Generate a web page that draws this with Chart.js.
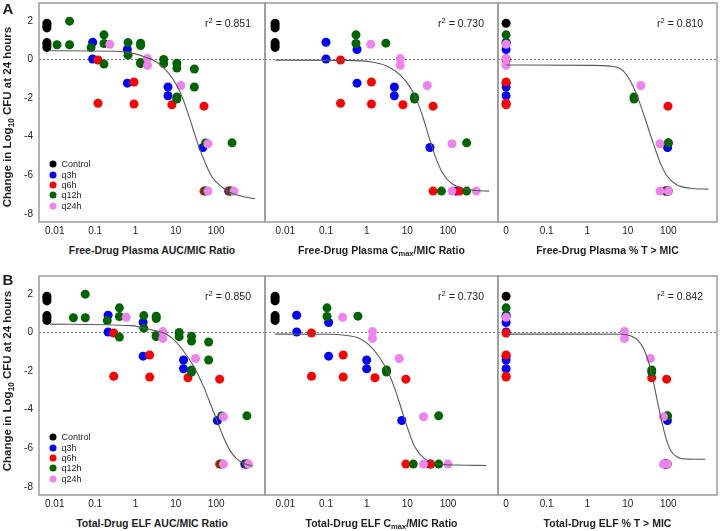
<!DOCTYPE html>
<html>
<head>
<meta charset="utf-8">
<script src="https://cdn.jsdelivr.net/npm/chart.js@4.4.1/dist/chart.umd.min.js"></script>
<style>
  html, body { margin:0; padding:0; background:#ffffff; }
  body { position:relative; width:720px; height:531px; overflow:hidden;
         font-family:"Liberation Sans", Arial, Helvetica, sans-serif; color:#1e1e1e; }
  canvas { position:absolute; }
  .txt { position:absolute; white-space:nowrap; line-height:1; }
  .ctr { transform:translate(-50%,-50%); }
  .xt { font-weight:bold; font-size:10.5px; }
  .yt { font-weight:bold; font-size:11.5px; transform:translate(-50%,-50%) rotate(-90deg); }
  .r2 { font-size:10.5px; transform:translate(-100%,-50%); }
  .pl { font-weight:bold; font-size:15px; }
  .lg { font-size:9px; transform:translateY(-50%); }
  .dot { position:absolute; width:7px; height:7px; border-radius:50%; transform:translate(-50%,-50%); }
  sub { font-size:72%; vertical-align:-0.28em; line-height:0; }
  sup { font-size:72%; vertical-align:0.45em; line-height:0; }
</style>
</head>
<body>
<script>
// ---------------- axis ticks ----------------
const Y_TICKS = [-8, -6, -4, -2, 0, 2];
const X_TICKS = [0.01, 0.1, 1, 10, 100];
const X_TICK_LABELS = ['0.01', '0.1', '1', '10', '100'];
const PCT_TICK_LABELS = ['0', '0.1', '1', '10', '100'];
const ZERO_PCT_POS = 0.01;   // "0" % T>MIC drawn at this log position

// ---------------- series ----------------
const SERIES_NAMES  = ['Control', 'q3h', 'q6h', 'q12h', 'q24h'];
const SERIES_COLORS = ['#000000', '#0000ff', '#ff0000', '#006400', '#ee82ee'];

// Control
const control_cfu        = [1.87, 1.75, 1.63, 0.87, 0.75, 0.62];
const control_plasmaAUC  = [0.0064, 0.0064, 0.0064, 0.0064, 0.0064, 0.0064];
const control_plasmaCmax = [0.0056, 0.0056, 0.0056, 0.0056, 0.0056, 0.0056];
const control_plasmaT    = [0, null, null, null, null, null];
const control_elfAUC     = [0.0064, 0.0064, 0.0064, 0.0064, 0.0064, 0.0064];
const control_elfCmax    = [0.0056, 0.0056, 0.0056, 0.0056, 0.0056, 0.0056];
const control_elfT       = [0, null, null, null, null, null];

// q3h
const q3h_cfu        = [0.89, 0.02, 0.51, -1.23, -1.43, -1.88, -4.56, -6.82];
const q3h_plasmaAUC  = [0.087, 0.087, 0.63, 0.63, 6.4, 6.4, 47, 204];
const q3h_plasmaCmax = [0.10, 0.10, 0.58, 0.58, 4.8, 4.8, 36, 160];
const q3h_plasmaT    = [0, 0, 0, 0, 0, 0, 96, 86];
const q3h_elfAUC     = [0.21, 0.21, 1.55, 1.55, 15.5, 15.5, 107, 510];
const q3h_elfCmax    = [0.019, 0.019, 0.116, 0.116, 1.0, 1.0, 7.3, 36];
const q3h_elfT       = [0, 0, 0, 0, 0, 0, 95, 88];

// q6h
const q6h_cfu        = [-0.03, -2.27, -1.17, -2.31, -2.35, -2.42, -6.82, -6.82];
const q6h_plasmaAUC  = [0.118, 0.118, 0.92, 0.92, 8.0, 50, 50, 216];
const q6h_plasmaCmax = [0.228, 0.228, 1.31, 1.31, 7.8, 43, 43, 192];
const q6h_plasmaT    = [0, 0, 0, 0, 0, 98, 90, 98];
const q6h_elfAUC     = [0.29, 0.29, 2.25, 2.25, 20, 122, 122, 560];
const q6h_elfCmax    = [0.044, 0.044, 0.265, 0.265, 1.6, 9.2, 9.2, 38];
const q6h_elfT       = [0, 0, 0, 0, 39, 91, 80, 92];

// q12h
const q12h_cfu        = [1.98, 0.76, 0.76, 0.61, 1.27, 0.82, -0.24, 0.87, 0.22, 0.84, 0.72, -0.16, -0.22,
                         0.0, -0.22, -0.2, -0.45, -1.95, -2.05, -0.5, -1.43, -4.33, -4.32, -6.82, -6.82];
const q12h_plasmaAUC  = [0.0233, 0.0114, 0.0233, 0.0795, 0.166, 0.166, 0.166, 0.655, 0.655, 1.34, 1.34, 1.34, 1.34,
                         5.0, 5.0, 10.6, 10.6, 10.6, 10.6, 28.8, 28.8, 54.7, 247, 55, 240];
const q12h_plasmaCmax = [null, null, null, null, 0.546, 0.546, null, null, null, 2.97, null, null, null,
                         null, null, null, null, 15, 15, null, null, null, 288, 69, 288];
const q12h_plasmaT    = [null, null, null, null, 0, 0, null, null, null, null, null, null, null,
                         null, null, null, null, 14.3, 14.3, null, null, 100, 100, 86, 100];
const q12h_elfAUC     = [0.057, 0.029, 0.057, 0.20, 0.40, 0.40, 0.40, 1.61, 1.61, 3.27, 3.27, 3.27, 3.27,
                         12.1, 12.1, 24.5, 24.5, 24.5, 24.5, 65, 65, 137, 577, 137, 577];
const q12h_elfCmax    = [null, null, null, null, 0.106, 0.106, null, null, null, 0.61, null, null, null,
                         null, null, null, null, 3.08, 3.08, null, null, null, 59, 14, 59];
const q12h_elfT       = [null, null, null, null, 0, 0, null, null, null, null, null, null, null,
                         null, null, null, null, 39, 39, null, null, 95, 95, 82, 95];

// q24h
const q24h_cfu        = [0.78, 0.04, -0.31, -1.35, -4.37, -6.82, -6.82];
const q24h_plasmaAUC  = [0.232, 1.99, 1.99, 13.3, 62.5, 62.5, 277];
const q24h_plasmaCmax = [1.26, 6.7, 6.7, 31, 125, 125, 500];
const q24h_plasmaT    = [0, 0, 0, 21, 62, 62, 100];
const q24h_elfAUC     = [0.59, 4.75, 4.75, 30.9, 151, 151, 630];
const q24h_elfCmax    = [0.256, 1.39, 1.39, 6.3, 25, 25, 100];
const q24h_elfT       = [0, 8.3, 8.3, 36, 75.5, 75.5, 95];

// ---------------- fitted curves ----------------
const curveA1_x = [0.0078, 0.34, 0.87, 1.85, 3.25, 5.71, 8.32, 12.1, 17.7, 25.8, 37.6, 54.7, 79.8, 140, 247, 525, 923];
const curveA1_y = [0.45, 0.42, 0.31, 0.10, -0.12, -0.55, -0.99, -1.59, -2.46, -3.50, -4.54, -5.40, -6.10, -6.62, -6.93, -7.13, -7.22];
const curveA2_x = [0.0057, 0.285, 1.26, 3.2, 6.73, 11.8, 17.1, 24.8, 36, 52.1, 75.7, 120, 231, 486, 1020];
const curveA2_y = [-0.04, -0.05, -0.12, -0.35, -0.81, -1.45, -2.11, -3.06, -4.19, -5.19, -5.92, -6.41, -6.68, -6.79, -6.82];
const curveA3_x = [0.01, 1.17, 3.66, 6.44, 9.4, 13.7, 20, 29.3, 42.7, 62.3, 91, 160, 342, 966];
const curveA3_y = [-0.29, -0.31, -0.35, -0.47, -0.81, -1.42, -2.29, -3.32, -4.36, -5.32, -6.01, -6.49, -6.67, -6.72];
const curveB1_x = [0.0076, 0.81, 1.70, 2.98, 5.23, 9.15, 16.0, 28.1, 49.2, 71.5, 104, 151, 219, 319, 508, 811];
const curveB1_y = [0.43, 0.35, 0.21, 0.09, -0.05, -0.40, -1.00, -1.78, -2.82, -3.68, -4.55, -5.42, -6.11, -6.54, -6.80, -6.92];
const curveB2_x = [0.0056, 0.106, 0.319, 0.667, 1.16, 2.01, 3.5, 5.06, 7.31, 10.6, 15.3, 26.5, 55.5, 167, 879];
const curveB2_y = [-0.09, -0.10, -0.16, -0.31, -0.66, -1.26, -2.13, -2.99, -4.03, -5.07, -5.94, -6.54, -6.80, -6.87, -6.89];
const curveB3_x = [0.01, 1.07, 6.92, 12.1, 17.6, 25.6, 37.2, 49.2, 65, 86, 114, 166, 290, 811];
const curveB3_y = [-0.09, -0.09, -0.10, -0.19, -0.40, -0.92, -1.96, -3.17, -4.38, -5.42, -6.11, -6.45, -6.56, -6.57];

// ---------------- texts ----------------
const R2_VALUES = ['0.851', '0.730', '0.810', '0.850', '0.730', '0.842'];
const X_TITLES = [
  'Free-Drug Plasma AUC/MIC Ratio',
  'Free-Drug Plasma C<sub>max</sub>/MIC Ratio',
  'Free-Drug Plasma % T &gt; MIC',
  'Total-Drug ELF AUC/MIC Ratio',
  'Total-Drug ELF C<sub>max</sub>/MIC Ratio',
  'Total-Drug ELF % T &gt; MIC'
];
const Y_TITLE = 'Change in Log<sub>10</sub> CFU at 24 hours';
const PANEL_LETTERS = ['A', 'B'];

// ---------------- assembly ----------------
const SERIES = [
  {cfu: control_cfu, plasmaAUC: control_plasmaAUC, plasmaCmax: control_plasmaCmax, plasmaT: control_plasmaT,
   elfAUC: control_elfAUC, elfCmax: control_elfCmax, elfT: control_elfT},
  {cfu: q3h_cfu, plasmaAUC: q3h_plasmaAUC, plasmaCmax: q3h_plasmaCmax, plasmaT: q3h_plasmaT,
   elfAUC: q3h_elfAUC, elfCmax: q3h_elfCmax, elfT: q3h_elfT},
  {cfu: q6h_cfu, plasmaAUC: q6h_plasmaAUC, plasmaCmax: q6h_plasmaCmax, plasmaT: q6h_plasmaT,
   elfAUC: q6h_elfAUC, elfCmax: q6h_elfCmax, elfT: q6h_elfT},
  {cfu: q12h_cfu, plasmaAUC: q12h_plasmaAUC, plasmaCmax: q12h_plasmaCmax, plasmaT: q12h_plasmaT,
   elfAUC: q12h_elfAUC, elfCmax: q12h_elfCmax, elfT: q12h_elfT},
  {cfu: q24h_cfu, plasmaAUC: q24h_plasmaAUC, plasmaCmax: q24h_plasmaCmax, plasmaT: q24h_plasmaT,
   elfAUC: q24h_elfAUC, elfCmax: q24h_elfCmax, elfT: q24h_elfT}
];

const PANELS = [
  {box:[39, 3, 265, 222],  key:'plasmaAUC',  pct:false, range:[-2.39, 3.21], cx:curveA1_x, cy:curveA1_y, showY:true},
  {box:[265, 3, 498, 222], key:'plasmaCmax', pct:false, range:[-2.50, 3.23], cx:curveA2_x, cy:curveA2_y, showY:false},
  {box:[498, 3, 717, 222], key:'plasmaT',    pct:true,  range:[-2.20, 3.20], cx:curveA3_x, cy:curveA3_y, showY:false},
  {box:[39, 276, 265, 495],  key:'elfAUC',   pct:false, range:[-2.39, 3.21], cx:curveB1_x, cy:curveB1_y, showY:true},
  {box:[265, 276, 498, 495], key:'elfCmax',  pct:false, range:[-2.50, 3.23], cx:curveB2_x, cy:curveB2_y, showY:false},
  {box:[498, 276, 717, 495], key:'elfT',     pct:true,  range:[-2.20, 3.20], cx:curveB3_x, cy:curveB3_y, showY:false}
];

const FONT_FAMILY = "'Liberation Sans', Arial, Helvetica, sans-serif";
const Y_MIN = -8.42, Y_MAX = 2.92;
const XH = 18, YW = 39;

const boxPlugin = {
  id: 'box',
  afterDraw(chart) {
    const {ctx, chartArea: a} = chart;
    ctx.save();
    ctx.strokeStyle = '#9a9a9a';
    ctx.lineWidth = 1.5;
    ctx.strokeRect(a.left, a.top, a.right - a.left, a.bottom - a.top);
    ctx.restore();
  }
};
const zeroPlugin = {
  id: 'zeroLine',
  beforeDatasetsDraw(chart) {
    const {ctx, chartArea: a, scales} = chart;
    const y = Math.round(scales.y.getPixelForValue(0)) + 0.5;
    ctx.save();
    ctx.setLineDash([2, 2]);
    ctx.strokeStyle = '#7a7a7a';
    ctx.lineWidth = 1;
    ctx.beginPath();
    ctx.moveTo(a.left, y);
    ctx.lineTo(a.right, y);
    ctx.stroke();
    ctx.restore();
  }
};

function addText(html, cls, x, y) {
  const d = document.createElement('div');
  d.className = 'txt ' + cls;
  d.innerHTML = html;
  d.style.left = x + 'px';
  d.style.top = y + 'px';
  document.body.appendChild(d);
  return d;
}

PANELS.forEach((p, idx) => {
  const [L, T, R, B] = p.box;
  const x0 = p.showY ? 0 : L - 3;
  const y0 = T - 3;
  const w = R + 3 - x0;
  const h = B - y0 + XH;
  const cv = document.createElement('canvas');
  cv.width = w; cv.height = h;
  cv.style.left = x0 + 'px'; cv.style.top = y0 + 'px';
  cv.style.width = w + 'px'; cv.style.height = h + 'px';
  document.body.appendChild(cv);

  const datasets = SERIES.map((s, si) => ({
    type: 'scatter',
    label: SERIES_NAMES[si],
    data: s.cfu.map((y, i) => {
      const xv = s[p.key][i];
      if (xv === null || xv === undefined) return null;
      return {x: (p.pct && xv === 0) ? ZERO_PCT_POS : xv, y: y};
    }).filter(d => d !== null),
    backgroundColor: SERIES_COLORS[si],
    borderWidth: 0,
    pointRadius: 4.5,
    pointHoverRadius: 4.5,
    order: 10 - si
  }));
  datasets.push({
    type: 'line',
    label: 'fit',
    data: p.cx.map((x, i) => ({x: x, y: p.cy[i]})),
    borderColor: '#5a5a5a',
    borderWidth: 1.1,
    pointRadius: 0,
    fill: false,
    cubicInterpolationMode: 'monotone',
    order: 0
  });

  const tickLabels = p.pct ? PCT_TICK_LABELS : X_TICK_LABELS;

  new Chart(cv, {
    data: {datasets: datasets},
    plugins: [zeroPlugin, boxPlugin],
    options: {
      responsive: false,
      animation: false,
      devicePixelRatio: 1,
      events: [],
      layout: {autoPadding: false, padding: {left: p.showY ? 0 : 3, top: 3, right: 3, bottom: 0}},
      plugins: {legend: {display: false}, tooltip: {enabled: false}, title: {display: false}},
      scales: {
        x: {
          type: 'logarithmic',
          position: 'bottom',
          min: Math.pow(10, p.range[0]),
          max: Math.pow(10, p.range[1]),
          afterBuildTicks: s => { s.ticks = X_TICKS.map(v => ({value: v, major: false})); },
          afterFit: s => { s.height = XH; s.paddingLeft = 0; s.paddingRight = 0; },
          grid: {display: false, drawTicks: false},
          border: {display: false},
          ticks: {
            autoSkip: false, maxRotation: 0, minRotation: 0, padding: 3,
            color: '#1e1e1e', font: {family: FONT_FAMILY, size: 10},
            callback: (v, i) => tickLabels[i]
          }
        },
        y: {
          type: 'linear',
          display: p.showY,
          min: Y_MIN,
          max: Y_MAX,
          afterBuildTicks: s => { s.ticks = Y_TICKS.map(v => ({value: v})); },
          afterFit: s => { s.width = p.showY ? YW : 0; s.paddingTop = 0; s.paddingBottom = 0; },
          grid: {display: false, drawTicks: false},
          border: {display: false},
          ticks: {
            padding: 6, color: '#1e1e1e', font: {family: FONT_FAMILY, size: 10},
            callback: v => String(v)
          }
        }
      }
    }
  });

  // texts
  addText(X_TITLES[idx], 'xt ctr', (L + R) / 2, B + 27.5);
  addText('r<sup>2</sup> = ' + R2_VALUES[idx], 'r2', R - 14, T + 19.7);
  if (p.showY) {
    const row = idx < 3 ? 0 : 1;
    addText(Y_TITLE, 'yt', 8, row === 0 ? 117 : 381);
    addText(PANEL_LETTERS[row], 'pl ctr', 8, row === 0 ? 8 : 278.5);
    SERIES_NAMES.forEach((name, si) => {
      const cy = T + 161.3 + si * 10.35;
      const dot = document.createElement('div');
      dot.className = 'dot';
      dot.style.left = '53.3px';
      dot.style.top = cy + 'px';
      dot.style.background = SERIES_COLORS[si];
      document.body.appendChild(dot);
      addText(name, 'lg', 61.5, cy);
    });
  }
});
</script>
</body>
</html>
